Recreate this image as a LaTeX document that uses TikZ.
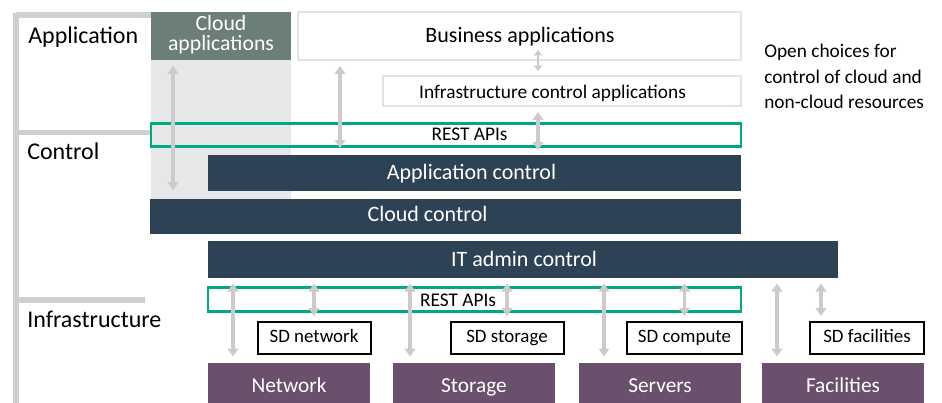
\documentclass[tikz,border=0pt]{standalone}
\usepackage{fontspec}
\setmainfont{Carlito}
\usetikzlibrary{arrows.meta,calc}
\definecolor{darkbar}{HTML}{2D4255}
\definecolor{cloudgreen}{HTML}{6B7F77}
\definecolor{purp}{HTML}{6A506C}
\definecolor{hpegreen}{HTML}{01A982}
\definecolor{bracketgray}{HTML}{CDD0D1}
\definecolor{bggray}{HTML}{E6E7E9}
\definecolor{arrgray}{HTML}{CBCBCB}
\definecolor{boxborder}{HTML}{E3E3E3}
\tikzset{
  box/.style={rectangle, inner sep=0pt, outer sep=0pt, anchor=north west},
  basetxt/.style={inner sep=0pt, anchor=base},
  bartxt/.style={basetxt, text=white, font=\fontsize{16.5}{18}\selectfont},
  darkbox/.style={box, fill=darkbar},
  purpbox/.style={box, fill=purp, text=white, font=\fontsize{16}{18}\selectfont, text height=13.9pt, text depth=0pt},
  whitebox/.style={box, draw=boxborder, line width=1.8pt, fill=white},
  restbox/.style={box, draw=hpegreen, line width=1.9pt},
  resttxt/.style={basetxt, font=\fontsize{14.5}{16}\selectfont},
  sdbox/.style={box, draw=black, line width=1.5pt, fill=white, font=\fontsize{14.2}{16}\selectfont, text height=6.5pt, text depth=0pt},
  layerlbl/.style={anchor=base west, inner sep=0pt, font=\fontsize{18}{20}\selectfont},
  bracket/.style={draw=bracketgray, line width=3.8pt},
  dbl/.style={draw=arrgray, line width=2.3pt, {Triangle[length=6pt,width=8pt]}-{Triangle[length=6pt,width=8pt]}},
  sdbl/.style={draw=arrgray, line width=1.5pt, {Triangle[length=4pt,width=6pt]}-{Triangle[length=4pt,width=6pt]}},
}
\begin{document}
\begin{tikzpicture}[x=0.75pt,y=-0.75pt]
\useasboundingbox (0,0) rectangle (942,403);
% bracket
\coordinate (bt) at (16,13);
\coordinate (bb) at (16,403);
\coordinate (b1) at (16,15);
\coordinate (b1e) at (151,15);
\coordinate (b2) at (16,132.5);
\coordinate (b2e) at (151,132.5);
\coordinate (b3) at (16,300);
\coordinate (b3e) at (145,300);
\draw[bracket] (bt) -- (bb);
\draw[bracket] (b1) -- (b1e);
\draw[bracket] (b2) -- (b2e);
\draw[bracket] (b3) -- (b3e);
\node[layerlbl] (lapp) at (28,43.5) {Application};
\node[layerlbl] (lctl) at (27,159.5) {Control};
\node[layerlbl] (linf) at (27,327.5) {Infrastructure};
% cloud column
\node[box, fill=bggray, minimum width=140*0.75pt, minimum height=139*0.75pt] (cloudbg) at (151,60) {};
\node[box, fill=cloudgreen, minimum width=140*0.75pt, minimum height=48*0.75pt] (cloudapps) at (151,12) {};
\node[basetxt, text=white, font=\fontsize{16.3}{18}\selectfont] (cloudtxt1) at (221,31) {Cloud};
\node[basetxt, text=white, font=\fontsize{16.3}{18}\selectfont] (cloudtxt2) at (221,51) {applications};
% application layer
\node[whitebox, minimum width=443*0.75pt, minimum height=48*0.75pt] (business) at (298,12) {};
\node[basetxt, font=\fontsize{16.5}{18}\selectfont] (businesstxt) at (520,42.5) {Business applications};
\node[whitebox, minimum width=358*0.75pt, minimum height=30*0.75pt] (infractl) at (383,76) {};
\node[resttxt] (infractltxt) at (552.5,98.2) {Infrastructure control applications};
\node[anchor=north west, inner sep=0pt, align=left, font=\fontsize{14.5}{19}\selectfont] (opentxt) at (764,44) {Open choices for\\control of cloud and\\non-cloud resources};
% REST top
\node[restbox, minimum width=590*0.75pt, minimum height=23*0.75pt] (resttop) at (151,123.5) {};
\node[resttxt] (resttoptxt) at (469.5,140.5) {REST APIs};
% control bars
\node[darkbox, minimum width=533*0.75pt, minimum height=35.5*0.75pt] (appctl) at (208,155) {};
\node[bartxt] (appctltxt) at (471.5,179) {Application control};
\node[darkbox, minimum width=591*0.75pt, minimum height=34.5*0.75pt] (cloudctl) at (150,199) {};
\node[bartxt] (cloudctltxt) at (427.5,221.5) {Cloud control};
\node[darkbox, minimum width=630*0.75pt, minimum height=36.5*0.75pt] (itadmin) at (208,241) {};
\node[bartxt] (itadmintxt) at (524,266.5) {IT admin control};
% REST bottom
\node[restbox, minimum width=533*0.75pt, minimum height=24*0.75pt] (restbot) at (208,287.5) {};
\node[resttxt] (restbottxt) at (458,306.5) {REST APIs};
% SD boxes
\node[sdbox, minimum width=113*0.75pt, minimum height=32*0.75pt] (sdnet) at (257.5,322) {SD network};
\node[sdbox, minimum width=113*0.75pt, minimum height=32*0.75pt] (sdsto) at (450.5,322) {SD storage};
\node[sdbox, minimum width=115*0.75pt, minimum height=32*0.75pt] (sdcomp) at (627,322) {SD compute};
\node[sdbox, minimum width=114*0.75pt, minimum height=32*0.75pt] (sdfac) at (810,322) {SD facilities};
% resources
\node[purpbox, minimum width=162*0.75pt, minimum height=41*0.75pt] (network) at (208,362.5) {Network};
\node[purpbox, minimum width=162*0.75pt, minimum height=41*0.75pt] (storage) at (393,362.5) {Storage};
\node[purpbox, minimum width=162*0.75pt, minimum height=41*0.75pt] (servers) at (579,362.5) {Servers};
\node[purpbox, minimum width=162*0.75pt, minimum height=41*0.75pt] (facilities) at (762,362.5) {Facilities};
% arrows top
\draw[dbl] ($(cloudapps.south west)+(22,6)$) -- ($(cloudctl.north west)+(23,-9)$);
\draw[dbl] ($(business.south west)+(42,6)$) -- ($(appctl.north west)+(132,-7)$);
\draw[sdbl] ($(business.south west)+(240,-10)$) -- ($(infractl.north west)+(155,-5)$);
\draw[dbl] ($(infractl.south west)+(155,6)$) -- ($(appctl.north west)+(330,-5)$);
% arrows bottom
\draw[dbl] ($(itadmin.south west)+(25,6)$) -- ($(network.north west)+(25,-6)$);
\draw[dbl] ($(itadmin.south -| sdnet.north)+(0,6)$) -- ($(sdnet.north)+(0,-6)$);
\draw[dbl] ($(itadmin.south west)+(202,6)$) -- ($(storage.north west)+(17,-6)$);
\draw[dbl] ($(itadmin.south -| sdsto.north)+(0,6)$) -- ($(sdsto.north)+(0,-6)$);
\draw[dbl] ($(itadmin.south west)+(396,6)$) -- ($(servers.north west)+(25,-6)$);
\draw[dbl] ($(itadmin.south -| sdcomp.north)+(0,6)$) -- ($(sdcomp.north)+(0,-6)$);
\draw[dbl] ($(itadmin.south west)+(569,6)$) -- ($(facilities.north west)+(15,-6)$);
\draw[dbl] ($(itadmin.south west)+(613,6)$) -- ($(sdfac.north west)+(11,-6)$);
\end{tikzpicture}
\end{document}
